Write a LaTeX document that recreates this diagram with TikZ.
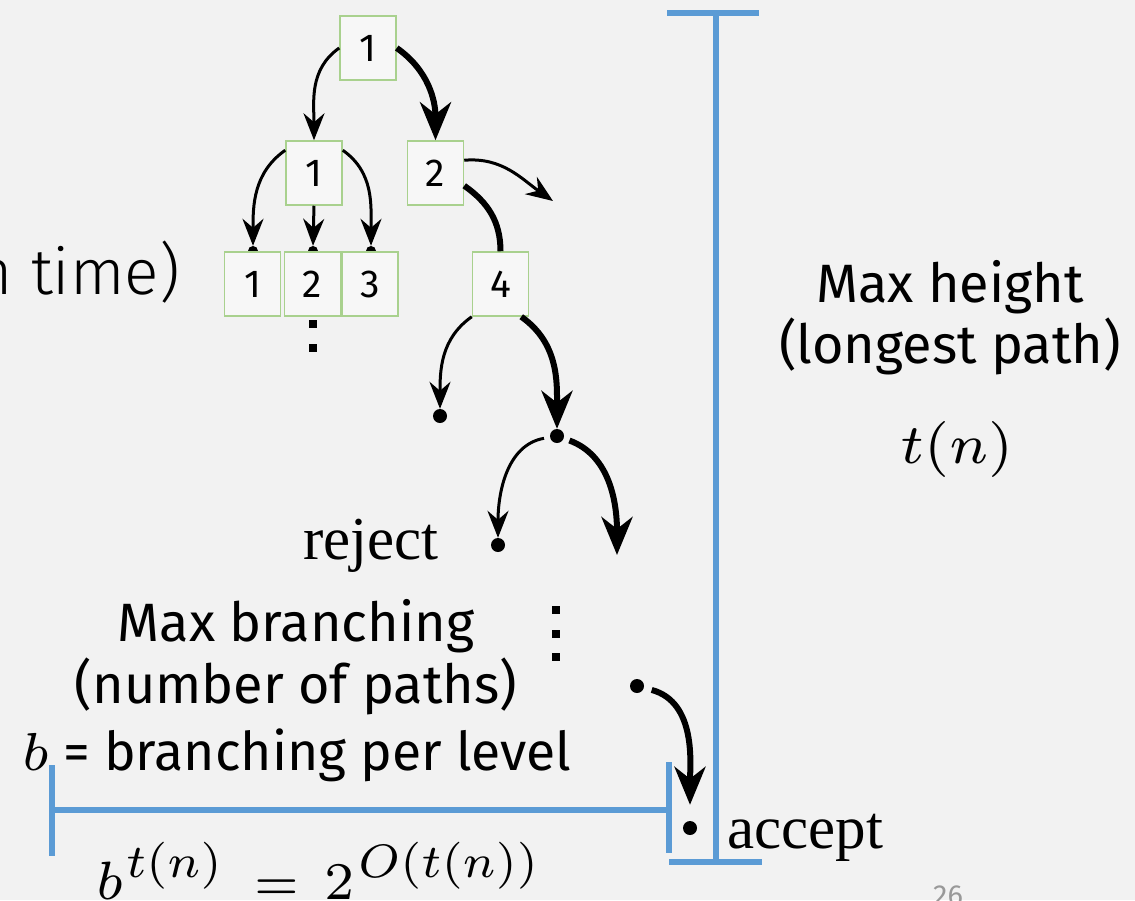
\documentclass[tikz,border=0pt]{standalone}
\usepackage{fontspec}
\setmainfont{Fira Sans}
\newfontfamily\serifface{Liberation Serif}
\IfFontExistsTF{Fira Sans Light}{\newfontfamily\lightface{Fira Sans Light}}{\newfontfamily\lightface{Fira Sans}}
% math set from the heavier 7pt designs, scalable to any size
\DeclareFontShape{OML}{cmm}{m}{it}{<->cmmi7}{}
\DeclareFontShape{OT1}{cmr}{m}{n}{<->cmr7}{}
\usetikzlibrary{arrows.meta}
\definecolor{bgcol}{HTML}{F2F2F2}
\definecolor{boxgreen}{HTML}{A9D18E}
\definecolor{boxfill}{HTML}{F7F7F7}
\definecolor{bluebar}{HTML}{5B9BD5}
\definecolor{pagegray}{HTML}{999999}
\newcommand{\fs}[1]{\fontsize{#1}{#1}\selectfont}

\begin{document}
\begin{tikzpicture}[x=1pt,y=1pt,
  box/.style={draw=boxgreen, line width=1.5pt, fill=boxfill, minimum width=56pt,
    minimum height=64pt, inner sep=0pt, font=\fs{39}},
  dot/.style={circle, fill=black, inner sep=0pt, minimum size=14pt},
  smalldot/.style={circle, fill=black, inner sep=0pt, minimum size=10pt},
  vdot/.style={rectangle, fill=black, inner sep=0pt, minimum size=8pt},
  thinarr/.style={line width=3pt, -{Stealth[length=27pt,width=21pt,inset=9pt]}},
  thickarr/.style={line width=6pt, -{Stealth[length=38pt,width=31pt,inset=12pt]}},
  thickline/.style={line width=6pt},
  bracket/.style={draw=bluebar, line width=5.5pt},
  label/.style={inner sep=0pt, anchor=base},
  piece/.style={inner sep=0pt, anchor=base west},
]
% canvas
\fill[bgcol] (0,0) rectangle (1135,-900);
\useasboundingbox (0,0) rectangle (1135,-900);
\clip (0,0) rectangle (1135,-900);

% small dots under the third-level boxes
\node[smalldot] (d1) at (253,-251) {};
\node[smalldot] (d2) at (313,-251) {};
\node[smalldot] (d3) at (371,-251) {};

% configuration boxes
\node[box] (t1) at (368,-48) {1};
\node[box] (a1) at (314,-173) {1};
\node[box] (a2) at (435.5,-173) {2};
\node[box] (b1) at (252.5,-284) {1};
\node[box] (b2) at (312.5,-284) {2};
\node[box] (b3) at (370,-284) {3};
\node[box] (b4) at (500.5,-284) {4};

% computation dots
\node[dot] (dl) at (440,-416) {};
\node[dot] (dm) at (557,-436) {};
\node[dot] (dr) at (498,-545) {};
\node[dot] (dp) at (637,-686) {};
\node[dot] (da) at (690,-828) {};
\coordinate (e1) at (553,-201);
\coordinate (e2) at (617,-555);

% vertical ellipses
\node[vdot] (v1) at (313,-324) {};
\node[vdot] (v2) at (313,-348) {};
\node[vdot] (v3) at (556,-610) {};
\node[vdot] (v4) at (556,-634) {};
\node[vdot] (v5) at (556,-657) {};

% branches
\draw[thinarr] (t1.west) to[out=215,in=90] (a1.north);
\draw[thickarr] (t1.east) to[out=-35,in=90] (a2.north);
\draw[thinarr] ([yshift=-10pt]a1.north west) to[out=215,in=90] (d1.north);
\draw[thinarr] (a1.south) -- (d2.north);
\draw[thinarr] ([yshift=-10pt]a1.north east) to[out=-35,in=90] (d3.north);
\draw[thinarr] ([yshift=-20pt]a2.north east) to[out=5,in=145] (e1);
\draw[thickline] ([yshift=20pt]a2.south east) to[out=-35,in=90] (b4.north);
\draw[thinarr] (b4.south west) to[out=215,in=90] (dl.north);
\draw[thickarr] ([xshift=-8pt]b4.south east) to[out=-35,in=90] (dm.north);
\draw[thinarr, shorten <=6pt] (dm) to[out=190,in=90] (dr.north);
\draw[thickarr, shorten <=6pt] (dm) to[out=-20,in=90] (e2);
\draw[thickarr, shorten <=8pt, shorten >=16pt] (dp) to[out=-15,in=90] (da);

% height bracket
\coordinate (ht) at (716,-13);
\coordinate (hb) at (716,-862);
\draw[bracket] (ht) -- (hb);
\draw[bracket] ([xshift=-49pt]ht) -- ([xshift=43pt]ht);
\draw[bracket] ([xshift=-47pt]hb) -- ([xshift=46pt]hb);

% width bracket
\coordinate (wl) at (52,-810);
\coordinate (wr) at (669,-810);
\draw[bracket] (wl) -- (wr);
\draw[bracket] ([yshift=45pt]wl) -- ([yshift=-46pt]wl);
\draw[bracket] ([yshift=48pt]wr) -- ([yshift=-43pt]wr);

% labels
\node[inner sep=0pt, anchor=base east] (tm) at (180,-294) {\lightface\fs{64}n time)};
\node[label] (mh) at (950,-302) {\fs{54}Max height};
\node[label] (lp) at (950,-363) {\fs{54}(longest path)};
\node[label] (tn) at (957,-463) {\fs{56}$t(n)$};
\node[label] (mb) at (296,-641) {\fs{54}Max branching};
\node[label] (np) at (296,-703) {\fs{54}(number of paths)};
\node[piece] (bp) at (22,-770) {\fs{53.5}$b$ = branching per level};
\node[piece] (rj) at (303,-559) {\serifface\fs{61}reject};
\node[piece] (ac) at (727,-848) {\serifface\fs{61}accept};

% b^{t(n)} = 2^{O(t(n))}, set piece by piece
\node[piece] (fb) at (96,-899) {\fs{54}$b$};
\node[piece] (fbe) at (126,-877) {\fs{47}$t(n)$};
\node[piece] (feq) at (254,-899) {\fs{51}$=$};
\node[piece] (ftwo) at (324,-899) {\fs{53}$2$};
\node[piece] (fte) at (358,-877) {\fs{47}$O(t(n))$};

\node[piece, text=pagegray] (pg) at (933,-905) {\fs{29}26};
\end{tikzpicture}
\end{document}
